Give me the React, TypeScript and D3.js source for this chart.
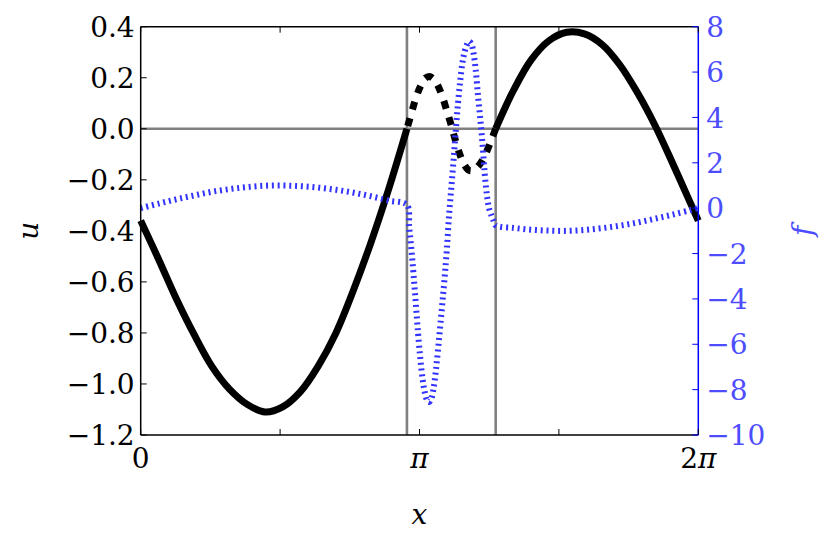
import React from "react";
import * as d3 from "d3";

// x positions and values of u and f
const xLeft = [0, 0.2, 0.4, 0.6, 0.8, 1.0, 1.2, 1.4, 1.6, 1.8, 2.0, 2.2, 2.4, 2.6, 2.8, 3.0];
const uLeft = [-0.36, -0.51, -0.665, -0.805, -0.93, -1.02, -1.08, -1.11, -1.09, -1.03, -0.93, -0.8, -0.63, -0.44, -0.23, 0.0];
const fLeft = [0, 0.2, 0.39, 0.56, 0.72, 0.84, 0.93, 0.99, 1.0, 0.97, 0.91, 0.81, 0.68, 0.52, 0.33, 0.14];

const xMid = [3.0, 3.05, 3.1, 3.15, 3.2, 3.25, 3.3, 3.35, 3.4, 3.45, 3.5, 3.55, 3.6, 3.65, 3.7, 3.75, 3.8, 3.85, 3.9, 3.95, 4.0];
const uMid = [0.0, 0.06, 0.12, 0.165, 0.196, 0.205, 0.195, 0.168, 0.125, 0.07, 0.013, -0.05, -0.104, -0.143, -0.163, -0.163, -0.148, -0.124, -0.088, -0.045, 0.0];

const xMidF = [
  3.0, 3.025, 3.05, 3.075, 3.1, 3.125, 3.15, 3.175, 3.2, 3.225, 3.25, 3.275, 3.3, 3.325,
  3.35, 3.375, 3.4, 3.425, 3.45, 3.475, 3.5, 3.525, 3.55, 3.575, 3.6, 3.625, 3.65, 3.675,
  3.7, 3.725, 3.75, 3.775, 3.8, 3.825, 3.85, 3.875, 3.9, 3.925, 3.95, 3.975, 4.0,
];
const fMid = [
  0.14, -0.8, -1.8, -2.95, -4.2, -5.5, -6.6, -7.5, -8.1, -8.45, -8.55, -8.4, -7.95, -7.2,
  -6.25, -5.2, -4.15, -3.05, -1.8, -0.3, 0.9, 2.1, 3.4, 4.6, 5.6, 6.4, 6.9, 7.2,
  7.35, 7.25, 6.85, 6.1, 5.0, 4.0, 2.9, 1.6, 0.6, 0.0, -0.3, -0.55, -0.76,
];

const xRight = [4.0, 4.2, 4.4, 4.6, 4.8, 5.0, 5.2, 5.4, 5.6, 5.8, 6.0, 6.2, 6.283];
const uRight = [0.0, 0.15, 0.27, 0.345, 0.378, 0.372, 0.33, 0.25, 0.14, 0.01, -0.14, -0.295, -0.36];
const fRight = [-0.76, -0.87, -0.95, -0.99, -1.0, -0.96, -0.88, -0.77, -0.63, -0.46, -0.28, -0.08, 0.0];

// axes
const xTicks = [0, Math.PI / 2, Math.PI, (3 * Math.PI) / 2, 2 * Math.PI];
const xTickNums = ["0", "", "", "", "2"];
const xTickPi = ["", "", "π", "", "π"];
const uTicks = [-1.2, -1.0, -0.8, -0.6, -0.4, -0.2, 0.0, 0.2, 0.4];
const fTicks = [-10, -8, -6, -4, -2, 0, 2, 4, 6, 8];
const vLines = [3, 4];

const W = 830,
  H = 540;
const margin = { top: 26.7, right: 131.7, bottom: 105, left: 140.7 };
const font = "DejaVu Serif, serif";
const lightBlue = "#4d4dff";

const fmt = (v: number) => {
  const s = v.toFixed(1);
  return v < 0 ? "\u2212" + s.slice(1) : s;
};
const fmtInt = (v: number) => (v < 0 ? "\u2212" + Math.abs(v) : String(v));

export default function App() {
  const x = d3
    .scaleLinear()
    .domain([0, 2 * Math.PI])
    .range([margin.left, W - margin.right]);
  const yU = d3.scaleLinear().domain([-1.2, 0.4]).range([H - margin.bottom, margin.top]);
  const yF = d3.scaleLinear().domain([-10, 8]).range([H - margin.bottom, margin.top]);

  const lineU = d3
    .line<[number, number]>()
    .x((d) => x(d[0]))
    .y((d) => yU(d[1]))
    .curve(d3.curveCatmullRom);
  const lineF = d3
    .line<[number, number]>()
    .x((d) => x(d[0]))
    .y((d) => yF(d[1]))
    .curve(d3.curveCatmullRom);

  const zip = (xs: number[], ys: number[]) => xs.map((v, i) => [v, ys[i]] as [number, number]);
  const fAll = [
    ...zip(xLeft, fLeft),
    ...zip(xMidF, fMid).slice(1),
    ...zip(xRight, fRight).slice(1),
  ];

  const x0 = margin.left,
    x1 = W - margin.right,
    y0 = margin.top,
    y1 = H - margin.bottom;
  const tick = 6;
  const txt = { fontFamily: font, fontSize: "28px" };

  return (
    <svg
      width={W}
      height={H}
      style={{ position: "absolute", left: 0, top: 0, background: "#fff", display: "block" }}
    >
      {/* reference lines */}
      <g stroke="#808080" strokeWidth={2.6}>
        {vLines.map((v) => (
          <line key={v} x1={x(v)} x2={x(v)} y1={y0} y2={y1} />
        ))}
        <line x1={x0} x2={x1} y1={yU(0)} y2={yU(0)} />
      </g>

      {/* u */}
      <g fill="none" stroke="#000" strokeWidth={7}>
        <path d={lineU(zip(xLeft, uLeft)) || ""} />
        <path d={lineU(zip(xMid, uMid)) || ""} strokeDasharray="8,9" strokeDashoffset={-3} />
        <path d={lineU(zip(xRight, uRight)) || ""} />
      </g>

      {/* f */}
      <path
        d={lineF(fAll) || ""}
        fill="none"
        stroke="#3333ff"
        strokeWidth={6}
        strokeDasharray="2,3.8"
      />

      {/* frame */}
      <g stroke="#000" strokeWidth={1.5} fill="none">
        <line x1={x0} x2={x0} y1={y0} y2={y1} />
        <line x1={x0} x2={x1} y1={y1} y2={y1} />
        <line x1={x0} x2={x1} y1={y0} y2={y0} />
      </g>
      <line x1={x1} x2={x1} y1={y0} y2={y1} stroke="#0000ff" strokeWidth={1.5} />

      {/* x ticks */}
      <g stroke="#000" strokeWidth={1}>
        {xTicks.map((t, i) => (
          <g key={i}>
            <line x1={x(t)} x2={x(t)} y1={y1} y2={y1 - tick} />
            <line x1={x(t)} x2={x(t)} y1={y0} y2={y0 + tick} />
          </g>
        ))}
      </g>
      <g style={txt} textAnchor="middle" fill="#000">
        {xTicks.map((t, i) =>
          xTickNums[i] || xTickPi[i] ? (
            <text key={i} x={x(t)} y={468}>
              {xTickNums[i]}
              {xTickPi[i] ? <tspan fontStyle="italic">{xTickPi[i]}</tspan> : null}
            </text>
          ) : null
        )}
      </g>

      {/* u ticks */}
      <g stroke="#000" strokeWidth={1}>
        {uTicks.map((t) => (
          <line key={t} x1={x0} x2={x0 + tick} y1={yU(t)} y2={yU(t)} />
        ))}
      </g>
      <g style={txt} textAnchor="end" fill="#000">
        {uTicks.map((t) => (
          <text key={t} x={x0 - 6} y={yU(t)} dy="0.36em">
            {fmt(t)}
          </text>
        ))}
      </g>

      {/* f ticks */}
      <g stroke="#0000ff" strokeWidth={1}>
        {fTicks.map((t) => (
          <line key={t} x1={x1} x2={x1 - tick} y1={yF(t)} y2={yF(t)} />
        ))}
      </g>
      <g style={txt} textAnchor="start" fill={lightBlue}>
        {fTicks.map((t) => (
          <text key={t} x={x1 + 8} y={yF(t)} dy="0.36em">
            {fmtInt(t)}
          </text>
        ))}
      </g>

      {/* axis labels */}
      <text x={(x0 + x1) / 2} y={524} style={{ ...txt, fontStyle: "italic" }} textAnchor="middle">
        x
      </text>
      <text
        transform={`translate(38,${(y0 + y1) / 2}) rotate(-90)`}
        style={{ ...txt, fontStyle: "italic" }}
        textAnchor="middle"
      >
        u
      </text>
      <text
        transform={`translate(812,${(y0 + y1) / 2}) rotate(-90)`}
        style={{ ...txt, fontStyle: "italic" }}
        textAnchor="middle"
        fill={lightBlue}
      >
        f
      </text>
    </svg>
  );
}
